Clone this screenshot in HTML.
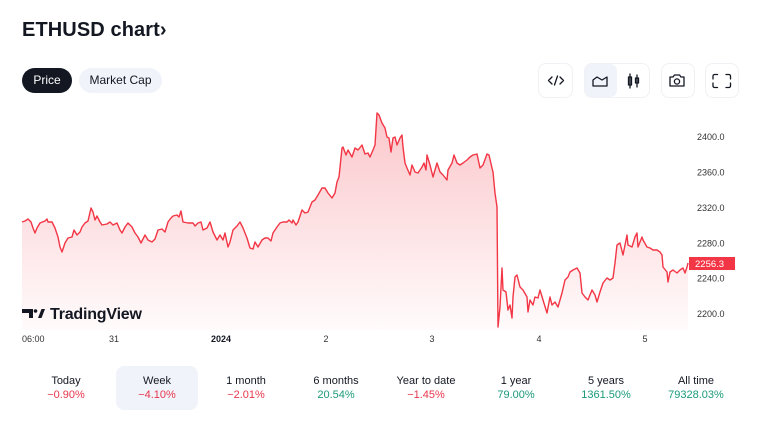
<!DOCTYPE html>
<html><head><meta charset="utf-8"><style>
*{margin:0;padding:0;box-sizing:border-box}
body{width:768px;height:432px;background:#fff;font-family:"Liberation Sans","DejaVu Sans",sans-serif;color:#131722;position:relative;overflow:hidden}
.title{position:absolute;left:22px;top:19px;font-size:20px;font-weight:bold;letter-spacing:0.1px}
.pill{position:absolute;top:68px;height:25px;border-radius:13px;font-size:12px;line-height:25px;text-align:center}
.btn{position:absolute;top:63px;height:35px;border:1px solid #f0f1f4;border-radius:8px;background:#fff}
.stats{position:absolute;left:21px;top:366px;width:720px;height:44px}
.col{position:absolute;top:0;width:82px;height:44px;text-align:center;font-size:11px}
.col .l{position:absolute;top:9px;left:0;right:0;color:#131722}
.col .v{position:absolute;top:23px;left:0;right:0}
.r{color:#e8364c}.g{color:#1a9a7a}
.ax{font-size:9px;fill:#333}
</style></head><body>
<div class="title">ETHUSD chart›</div>
<div class="pill" style="left:22px;width:50px;background:#131722;color:#fff">Price</div>
<div class="pill" style="left:79px;width:83px;background:#f0f3fa;color:#131722">Market Cap</div>

<div class="btn" style="left:538px;width:35px"></div>
<div class="btn" style="left:584px;width:66px"></div>
<div style="position:absolute;left:585px;top:64px;width:32px;height:33px;background:#f0f3fa;border-radius:7px"></div>
<div class="btn" style="left:661px;width:34px"></div>
<div class="btn" style="left:705px;width:34px"></div>
<svg style="position:absolute;left:0;top:0" width="768" height="432">
<g stroke="#131722" stroke-width="1.3" fill="none" stroke-linecap="round" stroke-linejoin="round">
<path d="M552 77 L548.5 80.5 L552 84 M560 77 L563.5 80.5 L560 84 M557.5 76 L554.5 85"/>
<path d="M593 86 L593 80 L597 77 L602 80 L607 77 L607 86 Z"/>
<path d="M630 74 L630 88 M628.5 77 h3 v8 h-3 z M637 75 L637 87 M635.5 78 h3 v5 h-3 z"/>
<path d="M670 77 h3 l1.5 -2 h5 l1.5 2 h3 v9 h-14 z"/>
<circle cx="677" cy="81.5" r="2.6"/>
<path d="M713 79 v-3 a1.5 1.5 0 0 1 1.5 -1.5 h3 M726 74.5 h3 a1.5 1.5 0 0 1 1.5 1.5 v3 M730.5 83 v3 a1.5 1.5 0 0 1 -1.5 1.5 h-3 M717.5 87.5 h-3 a1.5 1.5 0 0 1 -1.5 -1.5 v-3"/>
</g>
<defs>
<linearGradient id="gf" x1="0" y1="113" x2="0" y2="330" gradientUnits="userSpaceOnUse">
<stop offset="0" stop-color="#f23645" stop-opacity="0.28"/>
<stop offset="1" stop-color="#f23645" stop-opacity="0.02"/>
</linearGradient>
</defs>
<path id="ln" fill="url(#gf)" stroke="none" d="M22 222 L25 221 L28 219 L31 222 L33 228 L35 233 L37 228 L40 223 L45 221 L47 219 L48 222 L52 222 L55 228 L58 237 L60 247 L62 252 L65 243 L68 238 L72 237 L74 230 L77 235 L80 232 L82 227 L85 223 L88 221 L91 208 L93 212 L95 220 L97 216 L100 222 L102 225 L107 224 L110 222 L113 225 L117 223 L120 230 L122 233 L125 227 L128 223 L132 227 L135 233 L138 237 L141 243 L145 235 L148 240 L152 242 L155 239 L158 230 L162 229 L165 232 L168 222 L171 218 L173 216 L177 215 L179 217 L181 211 L183 222 L188 223 L193 223 L195 226 L198 223 L201 222 L203 230 L207 228 L210 222 L213 232 L217 240 L220 235 L223 240 L225 233 L228 247 L230 242 L233 230 L237 226 L240 222 L243 228 L247 238 L250 248 L253 249 L255 242 L258 247 L262 240 L265 238 L268 238 L271 241 L273 233 L277 227 L280 223 L283 222 L287 222 L289 220 L292 223 L293 220 L296 225 L298 222 L302 210 L305 213 L308 212 L312 202 L315 200 L318 195 L322 188 L325 188 L328 193 L332 198 L335 193 L337 182 L339 177 L342 148 L343 147 L346 155 L348 150 L352 157 L355 148 L358 150 L362 145 L365 154 L368 153 L370 157 L373 150 L375 145 L377 113 L379 115 L382 123 L385 128 L387 137 L389 138 L391 152 L393 138 L395 137 L397 145 L400 138 L402 135 L403 147 L405 163 L407 168 L410 175 L412 165 L415 172 L418 173 L422 167 L424 163 L426 170 L427 155 L430 165 L433 177 L437 163 L440 172 L443 175 L447 180 L448 170 L452 163 L454 155 L457 163 L460 165 L463 163 L467 160 L470 157 L473 155 L477 154 L480 168 L483 165 L487 154 L489 155 L492 168 L493 172 L495 193 L497 207 L498 327 L500 307 L502 268 L503 290 L506 292 L508 310 L510 305 L512 318 L513 297 L515 277 L517 275 L520 287 L523 290 L527 297 L528 312 L530 300 L533 305 L535 297 L538 298 L540 290 L543 300 L547 313 L550 297 L552 305 L555 302 L558 307 L562 293 L565 280 L568 277 L570 272 L573 270 L577 268 L580 273 L582 293 L585 297 L588 300 L592 290 L595 295 L597 302 L600 292 L603 283 L607 278 L610 280 L613 278 L615 263 L617 245 L620 243 L623 255 L627 235 L628 245 L632 247 L635 237 L637 233 L638 247 L642 237 L643 240 L647 247 L650 248 L653 250 L657 250 L660 252 L662 255 L663 267 L667 272 L668 282 L670 272 L673 270 L677 273 L680 270 L683 268 L685 273 L687 267 L688 263 L688 330 L22 330 Z"/>
<polyline fill="none" stroke="#f23645" stroke-width="1.4" stroke-linejoin="round" points="22,222 25,221 28,219 31,222 33,228 35,233 37,228 40,223 45,221 47,219 48,222 52,222 55,228 58,237 60,247 62,252 65,243 68,238 72,237 74,230 77,235 80,232 82,227 85,223 88,221 91,208 93,212 95,220 97,216 100,222 102,225 107,224 110,222 113,225 117,223 120,230 122,233 125,227 128,223 132,227 135,233 138,237 141,243 145,235 148,240 152,242 155,239 158,230 162,229 165,232 168,222 171,218 173,216 177,215 179,217 181,211 183,222 188,223 193,223 195,226 198,223 201,222 203,230 207,228 210,222 213,232 217,240 220,235 223,240 225,233 228,247 230,242 233,230 237,226 240,222 243,228 247,238 250,248 253,249 255,242 258,247 262,240 265,238 268,238 271,241 273,233 277,227 280,223 283,222 287,222 289,220 292,223 293,220 296,225 298,222 302,210 305,213 308,212 312,202 315,200 318,195 322,188 325,188 328,193 332,198 335,193 337,182 339,177 342,148 343,147 346,155 348,150 352,157 355,148 358,150 362,145 365,154 368,153 370,157 373,150 375,145 377,113 379,115 382,123 385,128 387,137 389,138 391,152 393,138 395,137 397,145 400,138 402,135 403,147 405,163 407,168 410,175 412,165 415,172 418,173 422,167 424,163 426,170 427,155 430,165 433,177 437,163 440,172 443,175 447,180 448,170 452,163 454,155 457,163 460,165 463,163 467,160 470,157 473,155 477,154 480,168 483,165 487,154 489,155 492,168 493,172 495,193 497,207 498,327 500,307 502,268 503,290 506,292 508,310 510,305 512,318 513,297 515,277 517,275 520,287 523,290 527,297 528,312 530,300 533,305 535,297 538,298 540,290 543,300 547,313 550,297 552,305 555,302 558,307 562,293 565,280 568,277 570,272 573,270 577,268 580,273 582,293 585,297 588,300 592,290 595,295 597,302 600,292 603,283 607,278 610,280 613,278 615,263 617,245 620,243 623,255 627,235 628,245 632,247 635,237 637,233 638,247 642,237 643,240 647,247 650,248 653,250 657,250 660,252 662,255 663,267 667,272 668,282 670,272 673,270 677,273 680,270 683,268 685,273 687,267 688,263"/>
<g class="ax">
<text x="697" y="140">2400.0</text>
<text x="697" y="175.5">2360.0</text>
<text x="697" y="211">2320.0</text>
<text x="697" y="246.5">2280.0</text>
<text x="697" y="281.5">2240.0</text>
<text x="697" y="317">2200.0</text>
<text x="22" y="342">06:00</text>
<text x="114" y="342" text-anchor="middle">31</text>
<text x="221" y="342" text-anchor="middle" font-weight="bold" fill="#131722">2024</text>
<text x="326" y="342" text-anchor="middle">2</text>
<text x="432" y="342" text-anchor="middle">3</text>
<text x="539" y="342" text-anchor="middle">4</text>
<text x="645" y="342" text-anchor="middle">5</text>
</g>
<rect x="689" y="257" width="46" height="13" fill="#f23645"/>
<text x="695" y="267" font-size="9.5" fill="#fff">2256.3</text>
<g fill="#131722">
<path d="M22 309 h11 v9 h-4 v-5 h-7 z"/>
<circle cx="35.5" cy="311" r="1.8"/>
<path d="M38 318 L41.5 309 H45 L41.5 318 Z"/>
</g>
<text x="50" y="319" font-size="16" font-weight="bold" fill="#131722" letter-spacing="-0.2">TradingView</text>
</svg>

<div class="stats">
<div class="col" style="left:4px"><div class="l">Today</div><div class="v r">−0.90%</div></div>
<div class="col" style="left:95px;background:#f0f3fa;border-radius:8px"><div class="l">Week</div><div class="v r">−4.10%</div></div>
<div class="col" style="left:184px"><div class="l">1 month</div><div class="v r">−2.01%</div></div>
<div class="col" style="left:274px"><div class="l">6 months</div><div class="v g">20.54%</div></div>
<div class="col" style="left:364px"><div class="l">Year to date</div><div class="v r">−1.45%</div></div>
<div class="col" style="left:454px"><div class="l">1 year</div><div class="v g">79.00%</div></div>
<div class="col" style="left:544px"><div class="l">5 years</div><div class="v g">1361.50%</div></div>
<div class="col" style="left:634px"><div class="l">All time</div><div class="v g">79328.03%</div></div>
</div>
</body></html>
